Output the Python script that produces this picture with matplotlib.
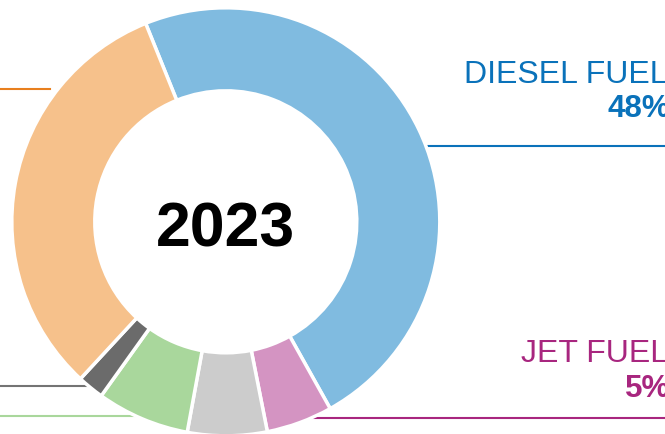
import matplotlib
matplotlib.use("Agg")
import matplotlib.pyplot as plt

# Data
categories = ["Diesel fuel", "Jet fuel", "Other", "Green segment", "Dark segment", "Gasoline"]
values = [48, 5, 6, 7, 2, 32]
slice_colors = ["#80bbe0", "#d494c2", "#cccccc", "#a9d79c", "#6b6b6b", "#f6c18b"]
year_label = "2023"
right_labels = ["DIESEL FUEL", "JET FUEL"]
right_pcts = ["48%", "5%"]
right_colors = ["#0a72ba", "#a8267f"]

plt.rcParams['font.family'] = ['Liberation Sans', 'DejaVu Sans']

W, H = 665, 435
fig = plt.figure(figsize=(W / 100, H / 100), dpi=100)
ax = fig.add_axes([0, 0, 1, 1])

cx, cy = 225.8, H - 222.8
R = 214
width = 83 / 214

ax.pie(values, colors=slice_colors, startangle=112, counterclock=False,
       center=(cx, cy), radius=R,
       wedgeprops=dict(width=R * width, edgecolor="white", linewidth=2.5))

ax.set_xlim(0, W)
ax.set_ylim(0, H)
ax.set_aspect("equal")
ax.axis("off")

# leader lines
ax.plot([0, 50], [H - 90, H - 90], color="#e87f1e", lw=1.5, zorder=0)
ax.plot([0, 95], [H - 387, H - 387], color="#747474", lw=1.5, zorder=0)
ax.plot([0, 140], [H - 417, H - 417], color="#a9d79c", lw=1.5, zorder=0)
ax.plot([420, W], [H - 147, H - 147], color=right_colors[0], lw=1.5, zorder=0)
ax.plot([308, W], [H - 419, H - 419], color=right_colors[1], lw=1.5, zorder=0)

# center label
ax.text(cx, H - 247, year_label, ha="center", va="baseline",
        fontsize=45, fontweight="bold", color="black")

# right labels
ax.text(668, H - 82.7, right_labels[0], ha="right", va="baseline",
        fontsize=23, color=right_colors[0])
ax.text(670, H - 117.3, right_pcts[0], ha="right", va="baseline",
        fontsize=22.5, fontweight="bold", color=right_colors[0])
ax.text(668, H - 361.7, right_labels[1], ha="right", va="baseline",
        fontsize=23, color=right_colors[1])
ax.text(670, H - 397, right_pcts[1], ha="right", va="baseline",
        fontsize=22.5, fontweight="bold", color=right_colors[1])

fig.savefig("out.png", dpi=100)
